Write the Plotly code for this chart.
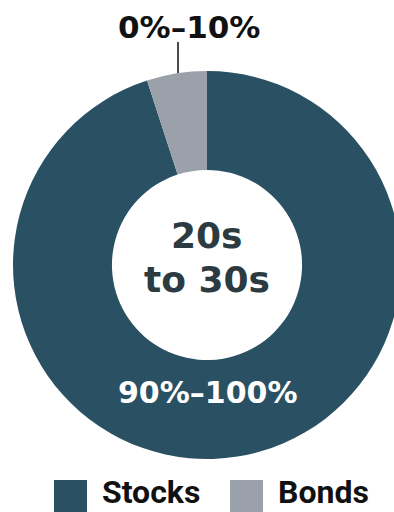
import plotly.graph_objects as go

# ---- data ----
categories = ["Stocks", "Bonds"]
values = [95, 5]
range_labels = ["90%–100%", "0%–10%"]
center_lines = ["20s", "to 30s"]
colors = ["#2a5063", "#9aa1ab"]

W, H = 414, 512
CX, CY, R = 207, 265, 194  # pixel geometry of the donut


def px(x):
    return x / W


def py(y):
    return 1 - y / H


FONT = "Roboto"
NUMFONT = "DejaVu Sans"

fig = go.Figure()
fig.add_trace(go.Pie(
    labels=categories,
    values=values,
    hole=0.49,
    sort=False,
    direction="clockwise",
    rotation=0,
    marker=dict(colors=colors, line=dict(width=0)),
    textinfo="none",
    hoverinfo="label+percent",
    showlegend=False,
    domain=dict(x=[px(CX - R), px(CX + R)], y=[py(CY + R), py(CY - R)]),
))

ann = []
# centre text
for line, yc in zip(center_lines, [235, 279]):
    ann.append(dict(x=px(CX), y=py(yc), xref="paper", yref="paper",
                    text=line, showarrow=False,
                    font=dict(family=NUMFONT, size=36, color="#2b3b41", weight="bold"),
                    xanchor="center", yanchor="middle"))
# stocks range label (inside)
ann.append(dict(x=px(208), y=py(392), xref="paper", yref="paper",
                text=range_labels[0], showarrow=False,
                font=dict(family=NUMFONT, size=30, color="white", weight="bold"),
                xanchor="center", yanchor="middle"))
# bonds range label (outside)
ann.append(dict(x=px(189), y=py(27), xref="paper", yref="paper",
                text=range_labels[1], showarrow=False,
                font=dict(family=NUMFONT, size=31, color="#111111", weight="bold"),
                xanchor="center", yanchor="middle"))

shapes = [dict(type="line", xref="paper", yref="paper",
               x0=px(178), x1=px(178), y0=py(42), y1=py(73),
               line=dict(color="#111111", width=1.5))]

# legend (manual, large swatches)
leg_x = [54, 230]
for i, name in enumerate(categories):
    x0 = leg_x[i]
    shapes.append(dict(type="rect", xref="paper", yref="paper",
                       x0=px(x0), x1=px(x0 + 33), y0=py(513), y1=py(480),
                       fillcolor=colors[i], line=dict(width=0)))
    ann.append(dict(x=px(x0 + 47), y=py(511.5), xref="paper", yref="paper",
                    text=name, showarrow=False, borderpad=0,
                    font=dict(family=FONT, size=32, color="#111111", weight="bold"),
                    xanchor="left", yanchor="bottom"))

fig.update_layout(
    width=W, height=H,
    margin=dict(l=0, r=0, t=0, b=0),
    paper_bgcolor="white",
    plot_bgcolor="white",
    annotations=ann,
    shapes=shapes,
)

fig.write_html(
    "out.html",
    config={"displayModeBar": False},
    post_script=("document.documentElement.style.overflow='hidden';"
                 "document.body.style.overflow='hidden';"
                 "document.body.style.margin='0';"
                 "document.documentElement.style.margin='0';"),
)
